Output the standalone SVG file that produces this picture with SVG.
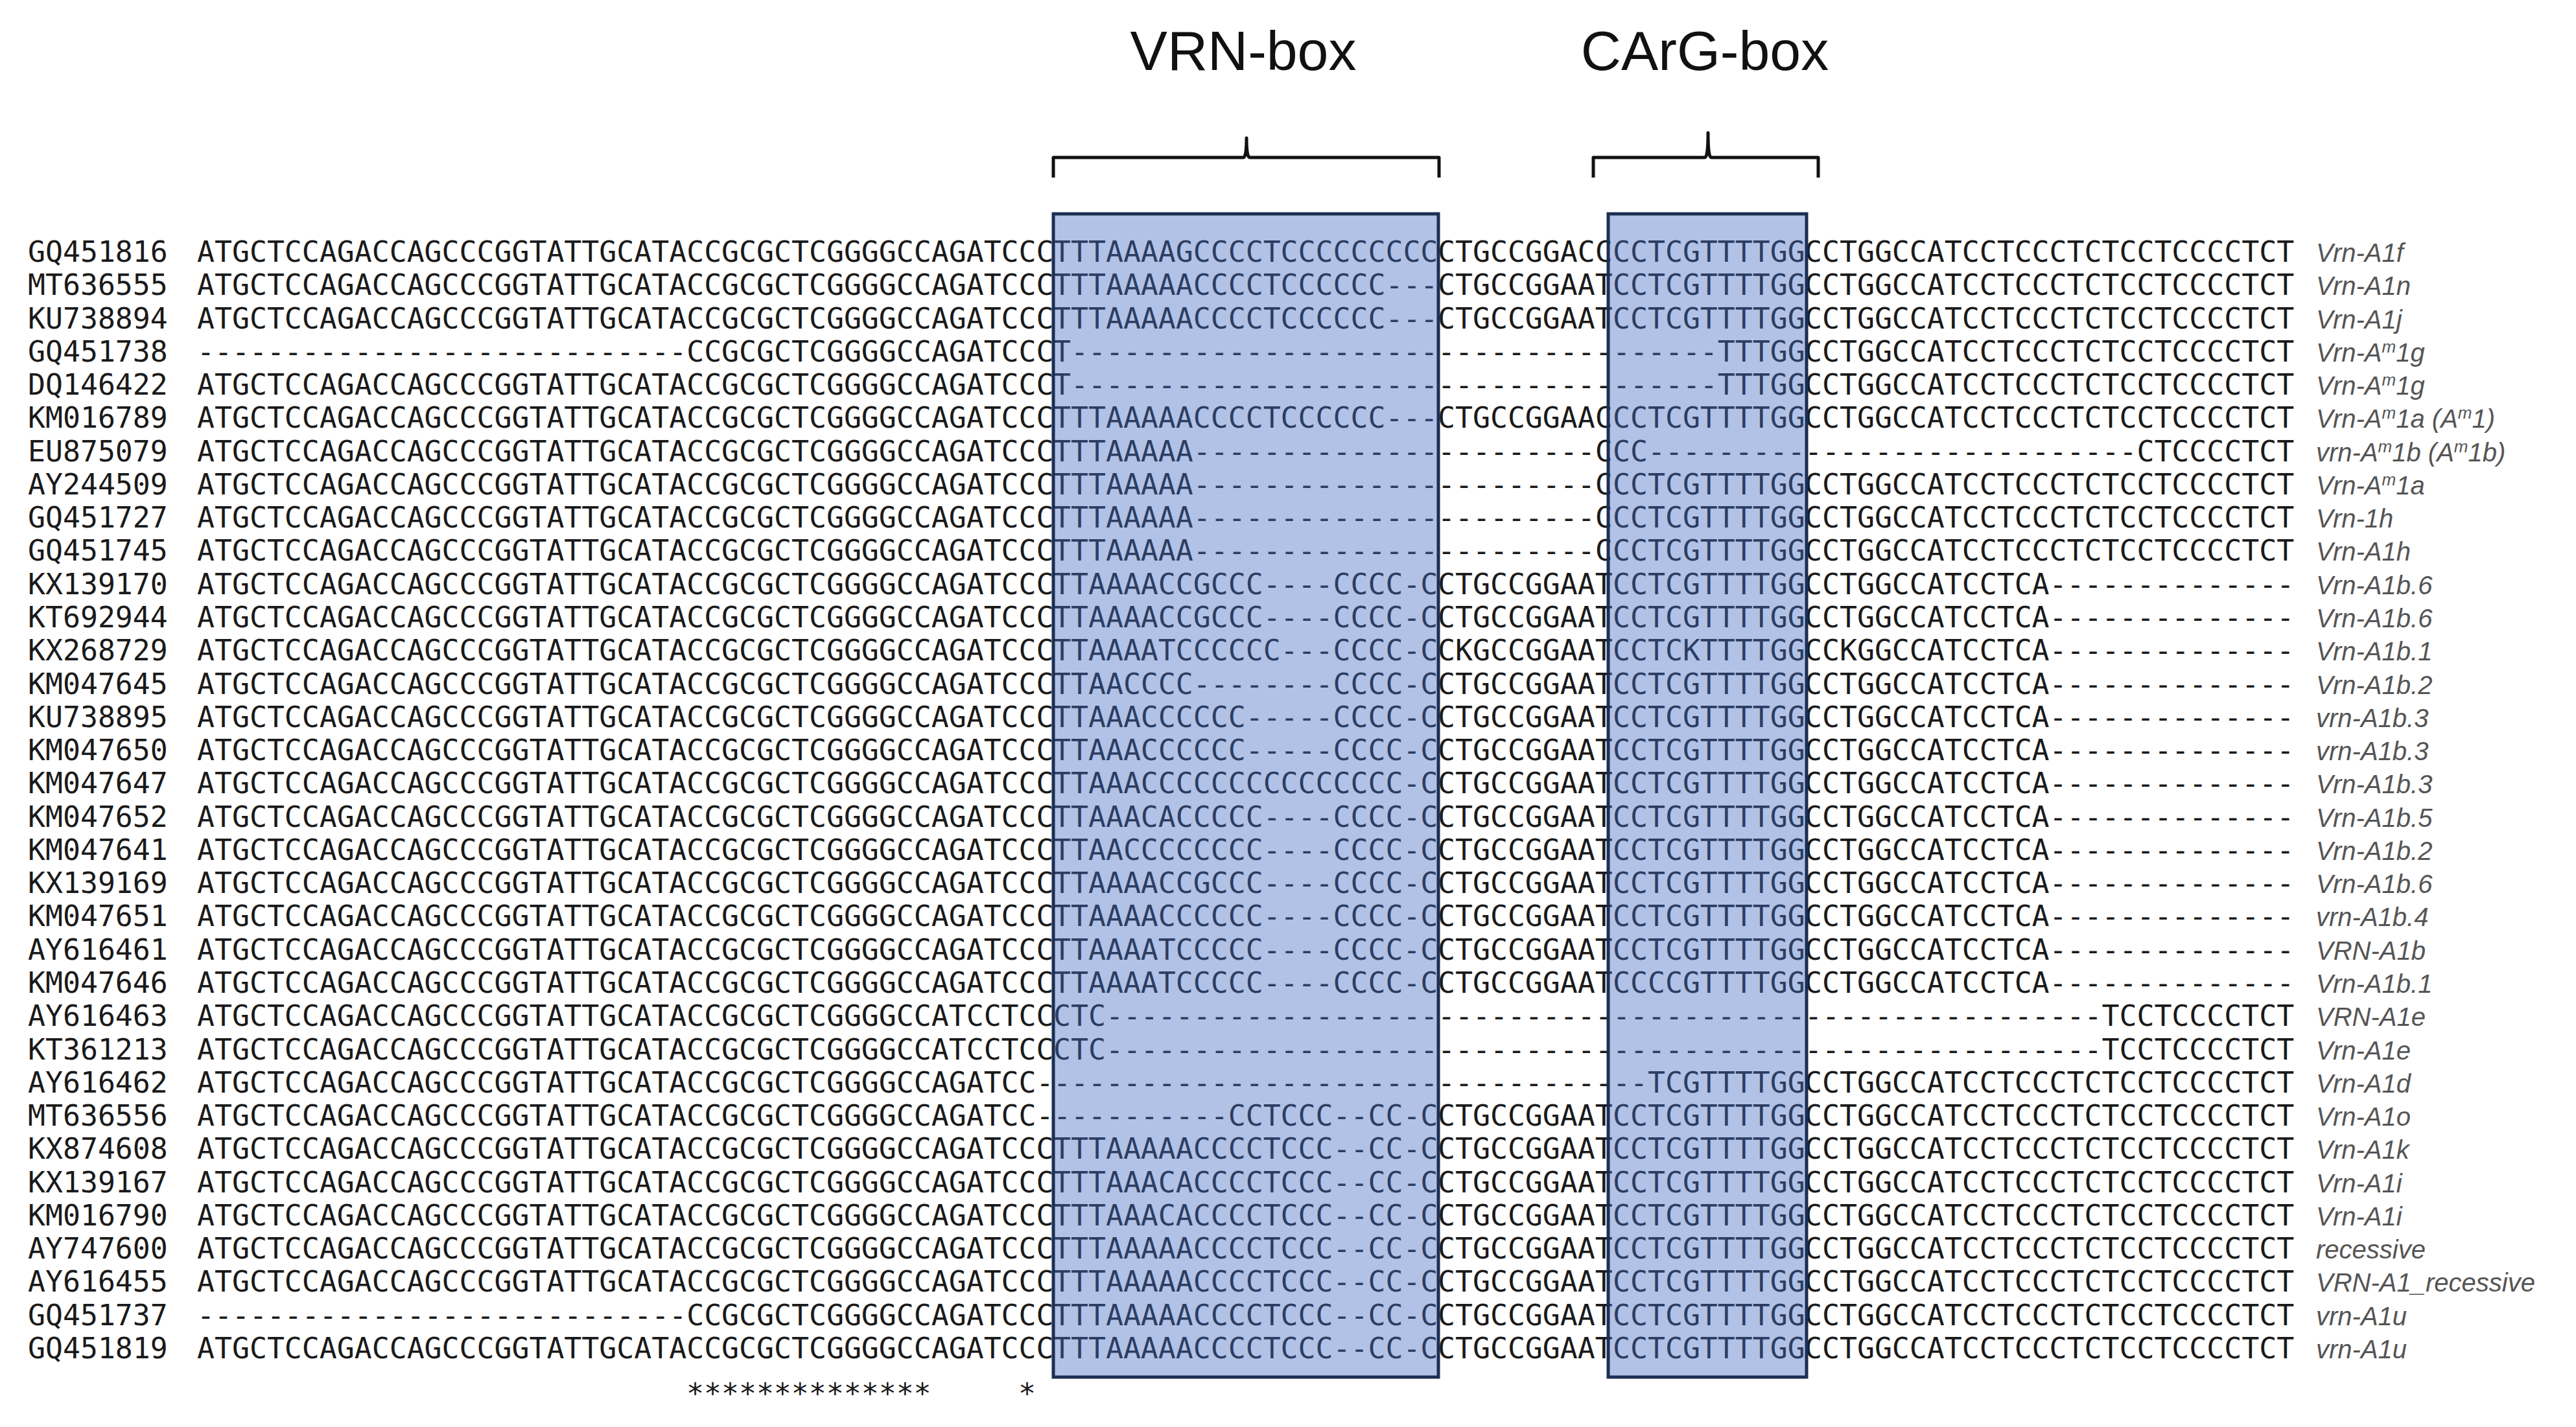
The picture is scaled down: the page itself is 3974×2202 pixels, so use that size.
<svg xmlns="http://www.w3.org/2000/svg" width="3974" height="2202" viewBox="0 0 3974 2202">
<style>
text{font-family:"DejaVu Sans Mono","Liberation Mono",monospace;font-size:44.8px;fill:#1a1a1a}
.lab{font-family:"Liberation Sans",Arial,sans-serif;font-style:italic;font-size:40px;fill:#555}
.hd{font-family:"Liberation Sans",Arial,sans-serif;font-size:86px;fill:#111;text-anchor:middle}
.box{fill:rgb(70,110,195);fill-opacity:0.42;stroke:#1c2e52;stroke-width:5}
.br{fill:none;stroke:#111;stroke-width:5;stroke-linejoin:round}
</style>
<defs>
<g id="dummy"/>
</defs>
<g id="header">
<text class="hd" x="1918" y="108">VRN-box</text>
<text class="hd" x="2630" y="108">CArG-box</text>
</g>
<g id="connectors">
<path class="br" d="M1625,274 V243 H1918 Q1923,243 1923,213 Q1923,243 1928,243 H2220 V274"/>
<path class="br" d="M2458,274 V243 H2630 Q2635,243 2635,205 Q2635,243 2640,243 H2805 V274"/>
</g>
<g id="r1" transform="translate(0,404)"><text x="43">GQ451816</text><text x="304">ATGCTCCAGACCAGCCCGGTATTGCATACCGCGCTCGGGGCCAGATCCC</text><text x="1625">TTTAAAAGCCCCTCCCCCCCCC</text><text x="2218">CTGCCGGACC</text><text x="2488">CCTCGTTTTGG</text><text x="2784">CCTGGCCATCCTCCCTCTCCTCCCCTCT</text><text class="lab" x="3573">Vrn-A1f</text></g>
<g id="r2" transform="translate(0,455.3)"><text x="43">MT636555</text><text x="304">ATGCTCCAGACCAGCCCGGTATTGCATACCGCGCTCGGGGCCAGATCCC</text><text x="1625">TTTAAAAACCCCTCCCCCC---</text><text x="2218">CTGCCGGAAT</text><text x="2488">CCTCGTTTTGG</text><text x="2784">CCTGGCCATCCTCCCTCTCCTCCCCTCT</text><text class="lab" x="3573">Vrn-A1n</text></g>
<g id="r3" transform="translate(0,506.5)"><text x="43">KU738894</text><text x="304">ATGCTCCAGACCAGCCCGGTATTGCATACCGCGCTCGGGGCCAGATCCC</text><text x="1625">TTTAAAAACCCCTCCCCCC---</text><text x="2218">CTGCCGGAAT</text><text x="2488">CCTCGTTTTGG</text><text x="2784">CCTGGCCATCCTCCCTCTCCTCCCCTCT</text><text class="lab" x="3573">Vrn-A1j</text></g>
<g id="r4" transform="translate(0,557.8)"><text x="43">GQ451738</text><text x="304">----------------------------CCGCGCTCGGGGCCAGATCCC</text><text x="1625">T---------------------</text><text x="2218">----------</text><text x="2488">------TTTGG</text><text x="2784">CCTGGCCATCCTCCCTCTCCTCCCCTCT</text><text class="lab" x="3573">Vrn-A<tspan dy="-14" font-size="26">m</tspan><tspan dy="14">1g</tspan></text></g>
<g id="r5" transform="translate(0,609.1)"><text x="43">DQ146422</text><text x="304">ATGCTCCAGACCAGCCCGGTATTGCATACCGCGCTCGGGGCCAGATCCC</text><text x="1625">T---------------------</text><text x="2218">----------</text><text x="2488">------TTTGG</text><text x="2784">CCTGGCCATCCTCCCTCTCCTCCCCTCT</text><text class="lab" x="3573">Vrn-A<tspan dy="-14" font-size="26">m</tspan><tspan dy="14">1g</tspan></text></g>
<g id="r6" transform="translate(0,660.4)"><text x="43">KM016789</text><text x="304">ATGCTCCAGACCAGCCCGGTATTGCATACCGCGCTCGGGGCCAGATCCC</text><text x="1625">TTTAAAAACCCCTCCCCCC---</text><text x="2218">CTGCCGGAAC</text><text x="2488">CCTCGTTTTGG</text><text x="2784">CCTGGCCATCCTCCCTCTCCTCCCCTCT</text><text class="lab" x="3573">Vrn-A<tspan dy="-14" font-size="26">m</tspan><tspan dy="14">1a (A</tspan><tspan dy="-14" font-size="26">m</tspan><tspan dy="14">1)</tspan></text></g>
<g id="r7" transform="translate(0,711.6)"><text x="43">EU875079</text><text x="304">ATGCTCCAGACCAGCCCGGTATTGCATACCGCGCTCGGGGCCAGATCCC</text><text x="1625">TTTAAAAA--------------</text><text x="2218">---------C</text><text x="2488">CC---------</text><text x="2784">-------------------CTCCCCTCT</text><text class="lab" x="3573">vrn-A<tspan dy="-14" font-size="26">m</tspan><tspan dy="14">1b (A</tspan><tspan dy="-14" font-size="26">m</tspan><tspan dy="14">1b)</tspan></text></g>
<g id="r8" transform="translate(0,762.9)"><text x="43">AY244509</text><text x="304">ATGCTCCAGACCAGCCCGGTATTGCATACCGCGCTCGGGGCCAGATCCC</text><text x="1625">TTTAAAAA--------------</text><text x="2218">---------C</text><text x="2488">CCTCGTTTTGG</text><text x="2784">CCTGGCCATCCTCCCTCTCCTCCCCTCT</text><text class="lab" x="3573">Vrn-A<tspan dy="-14" font-size="26">m</tspan><tspan dy="14">1a</tspan></text></g>
<g id="r9" transform="translate(0,814.2)"><text x="43">GQ451727</text><text x="304">ATGCTCCAGACCAGCCCGGTATTGCATACCGCGCTCGGGGCCAGATCCC</text><text x="1625">TTTAAAAA--------------</text><text x="2218">---------C</text><text x="2488">CCTCGTTTTGG</text><text x="2784">CCTGGCCATCCTCCCTCTCCTCCCCTCT</text><text class="lab" x="3573">Vrn-1h</text></g>
<g id="r10" transform="translate(0,865.4)"><text x="43">GQ451745</text><text x="304">ATGCTCCAGACCAGCCCGGTATTGCATACCGCGCTCGGGGCCAGATCCC</text><text x="1625">TTTAAAAA--------------</text><text x="2218">---------C</text><text x="2488">CCTCGTTTTGG</text><text x="2784">CCTGGCCATCCTCCCTCTCCTCCCCTCT</text><text class="lab" x="3573">Vrn-A1h</text></g>
<g id="r11" transform="translate(0,916.7)"><text x="43">KX139170</text><text x="304">ATGCTCCAGACCAGCCCGGTATTGCATACCGCGCTCGGGGCCAGATCCC</text><text x="1625">TTAAAACCGCCC----CCCC-C</text><text x="2218">CTGCCGGAAT</text><text x="2488">CCTCGTTTTGG</text><text x="2784">CCTGGCCATCCTCA--------------</text><text class="lab" x="3573">Vrn-A1b.6</text></g>
<g id="r12" transform="translate(0,968)"><text x="43">KT692944</text><text x="304">ATGCTCCAGACCAGCCCGGTATTGCATACCGCGCTCGGGGCCAGATCCC</text><text x="1625">TTAAAACCGCCC----CCCC-C</text><text x="2218">CTGCCGGAAT</text><text x="2488">CCTCGTTTTGG</text><text x="2784">CCTGGCCATCCTCA--------------</text><text class="lab" x="3573">Vrn-A1b.6</text></g>
<g id="r13" transform="translate(0,1019.2)"><text x="43">KX268729</text><text x="304">ATGCTCCAGACCAGCCCGGTATTGCATACCGCGCTCGGGGCCAGATCCC</text><text x="1625">TTAAAATCCCCCC---CCCC-C</text><text x="2218">CKGCCGGAAT</text><text x="2488">CCTCKTTTTGG</text><text x="2784">CCKGGCCATCCTCA--------------</text><text class="lab" x="3573">Vrn-A1b.1</text></g>
<g id="r14" transform="translate(0,1070.5)"><text x="43">KM047645</text><text x="304">ATGCTCCAGACCAGCCCGGTATTGCATACCGCGCTCGGGGCCAGATCCC</text><text x="1625">TTAACCCC--------CCCC-C</text><text x="2218">CTGCCGGAAT</text><text x="2488">CCTCGTTTTGG</text><text x="2784">CCTGGCCATCCTCA--------------</text><text class="lab" x="3573">Vrn-A1b.2</text></g>
<g id="r15" transform="translate(0,1121.8)"><text x="43">KU738895</text><text x="304">ATGCTCCAGACCAGCCCGGTATTGCATACCGCGCTCGGGGCCAGATCCC</text><text x="1625">TTAAACCCCCC-----CCCC-C</text><text x="2218">CTGCCGGAAT</text><text x="2488">CCTCGTTTTGG</text><text x="2784">CCTGGCCATCCTCA--------------</text><text class="lab" x="3573">vrn-A1b.3</text></g>
<g id="r16" transform="translate(0,1173.1)"><text x="43">KM047650</text><text x="304">ATGCTCCAGACCAGCCCGGTATTGCATACCGCGCTCGGGGCCAGATCCC</text><text x="1625">TTAAACCCCCC-----CCCC-C</text><text x="2218">CTGCCGGAAT</text><text x="2488">CCTCGTTTTGG</text><text x="2784">CCTGGCCATCCTCA--------------</text><text class="lab" x="3573">vrn-A1b.3</text></g>
<g id="r17" transform="translate(0,1224.3)"><text x="43">KM047647</text><text x="304">ATGCTCCAGACCAGCCCGGTATTGCATACCGCGCTCGGGGCCAGATCCC</text><text x="1625">TTAAACCCCCCCCCCCCCCC-C</text><text x="2218">CTGCCGGAAT</text><text x="2488">CCTCGTTTTGG</text><text x="2784">CCTGGCCATCCTCA--------------</text><text class="lab" x="3573">Vrn-A1b.3</text></g>
<g id="r18" transform="translate(0,1275.6)"><text x="43">KM047652</text><text x="304">ATGCTCCAGACCAGCCCGGTATTGCATACCGCGCTCGGGGCCAGATCCC</text><text x="1625">TTAAACACCCCC----CCCC-C</text><text x="2218">CTGCCGGAAT</text><text x="2488">CCTCGTTTTGG</text><text x="2784">CCTGGCCATCCTCA--------------</text><text class="lab" x="3573">Vrn-A1b.5</text></g>
<g id="r19" transform="translate(0,1326.9)"><text x="43">KM047641</text><text x="304">ATGCTCCAGACCAGCCCGGTATTGCATACCGCGCTCGGGGCCAGATCCC</text><text x="1625">TTAACCCCCCCC----CCCC-C</text><text x="2218">CTGCCGGAAT</text><text x="2488">CCTCGTTTTGG</text><text x="2784">CCTGGCCATCCTCA--------------</text><text class="lab" x="3573">Vrn-A1b.2</text></g>
<g id="r20" transform="translate(0,1378.1)"><text x="43">KX139169</text><text x="304">ATGCTCCAGACCAGCCCGGTATTGCATACCGCGCTCGGGGCCAGATCCC</text><text x="1625">TTAAAACCGCCC----CCCC-C</text><text x="2218">CTGCCGGAAT</text><text x="2488">CCTCGTTTTGG</text><text x="2784">CCTGGCCATCCTCA--------------</text><text class="lab" x="3573">Vrn-A1b.6</text></g>
<g id="r21" transform="translate(0,1429.4)"><text x="43">KM047651</text><text x="304">ATGCTCCAGACCAGCCCGGTATTGCATACCGCGCTCGGGGCCAGATCCC</text><text x="1625">TTAAAACCCCCC----CCCC-C</text><text x="2218">CTGCCGGAAT</text><text x="2488">CCTCGTTTTGG</text><text x="2784">CCTGGCCATCCTCA--------------</text><text class="lab" x="3573">vrn-A1b.4</text></g>
<g id="r22" transform="translate(0,1480.7)"><text x="43">AY616461</text><text x="304">ATGCTCCAGACCAGCCCGGTATTGCATACCGCGCTCGGGGCCAGATCCC</text><text x="1625">TTAAAATCCCCC----CCCC-C</text><text x="2218">CTGCCGGAAT</text><text x="2488">CCTCGTTTTGG</text><text x="2784">CCTGGCCATCCTCA--------------</text><text class="lab" x="3573">VRN-A1b</text></g>
<g id="r23" transform="translate(0,1531.9)"><text x="43">KM047646</text><text x="304">ATGCTCCAGACCAGCCCGGTATTGCATACCGCGCTCGGGGCCAGATCCC</text><text x="1625">TTAAAATCCCCC----CCCC-C</text><text x="2218">CTGCCGGAAT</text><text x="2488">CCCCGTTTTGG</text><text x="2784">CCTGGCCATCCTCA--------------</text><text class="lab" x="3573">Vrn-A1b.1</text></g>
<g id="r24" transform="translate(0,1583.2)"><text x="43">AY616463</text><text x="304">ATGCTCCAGACCAGCCCGGTATTGCATACCGCGCTCGGGGCCATCCTCC</text><text x="1625">CTC-------------------</text><text x="2218">----------</text><text x="2488">-----------</text><text x="2784">-----------------TCCTCCCCTCT</text><text class="lab" x="3573">VRN-A1e</text></g>
<g id="r25" transform="translate(0,1634.5)"><text x="43">KT361213</text><text x="304">ATGCTCCAGACCAGCCCGGTATTGCATACCGCGCTCGGGGCCATCCTCC</text><text x="1625">CTC-------------------</text><text x="2218">----------</text><text x="2488">-----------</text><text x="2784">-----------------TCCTCCCCTCT</text><text class="lab" x="3573">Vrn-A1e</text></g>
<g id="r26" transform="translate(0,1685.8)"><text x="43">AY616462</text><text x="304">ATGCTCCAGACCAGCCCGGTATTGCATACCGCGCTCGGGGCCAGATCC-</text><text x="1625">----------------------</text><text x="2218">----------</text><text x="2488">--TCGTTTTGG</text><text x="2784">CCTGGCCATCCTCCCTCTCCTCCCCTCT</text><text class="lab" x="3573">Vrn-A1d</text></g>
<g id="r27" transform="translate(0,1737)"><text x="43">MT636556</text><text x="304">ATGCTCCAGACCAGCCCGGTATTGCATACCGCGCTCGGGGCCAGATCC-</text><text x="1625">----------CCTCCC--CC-C</text><text x="2218">CTGCCGGAAT</text><text x="2488">CCTCGTTTTGG</text><text x="2784">CCTGGCCATCCTCCCTCTCCTCCCCTCT</text><text class="lab" x="3573">Vrn-A1o</text></g>
<g id="r28" transform="translate(0,1788.3)"><text x="43">KX874608</text><text x="304">ATGCTCCAGACCAGCCCGGTATTGCATACCGCGCTCGGGGCCAGATCCC</text><text x="1625">TTTAAAAACCCCTCCC--CC-C</text><text x="2218">CTGCCGGAAT</text><text x="2488">CCTCGTTTTGG</text><text x="2784">CCTGGCCATCCTCCCTCTCCTCCCCTCT</text><text class="lab" x="3573">Vrn-A1k</text></g>
<g id="r29" transform="translate(0,1839.6)"><text x="43">KX139167</text><text x="304">ATGCTCCAGACCAGCCCGGTATTGCATACCGCGCTCGGGGCCAGATCCC</text><text x="1625">TTTAAACACCCCTCCC--CC-C</text><text x="2218">CTGCCGGAAT</text><text x="2488">CCTCGTTTTGG</text><text x="2784">CCTGGCCATCCTCCCTCTCCTCCCCTCT</text><text class="lab" x="3573">Vrn-A1i</text></g>
<g id="r30" transform="translate(0,1890.8)"><text x="43">KM016790</text><text x="304">ATGCTCCAGACCAGCCCGGTATTGCATACCGCGCTCGGGGCCAGATCCC</text><text x="1625">TTTAAACACCCCTCCC--CC-C</text><text x="2218">CTGCCGGAAT</text><text x="2488">CCTCGTTTTGG</text><text x="2784">CCTGGCCATCCTCCCTCTCCTCCCCTCT</text><text class="lab" x="3573">Vrn-A1i</text></g>
<g id="r31" transform="translate(0,1942.1)"><text x="43">AY747600</text><text x="304">ATGCTCCAGACCAGCCCGGTATTGCATACCGCGCTCGGGGCCAGATCCC</text><text x="1625">TTTAAAAACCCCTCCC--CC-C</text><text x="2218">CTGCCGGAAT</text><text x="2488">CCTCGTTTTGG</text><text x="2784">CCTGGCCATCCTCCCTCTCCTCCCCTCT</text><text class="lab" x="3573">recessive</text></g>
<g id="r32" transform="translate(0,1993.4)"><text x="43">AY616455</text><text x="304">ATGCTCCAGACCAGCCCGGTATTGCATACCGCGCTCGGGGCCAGATCCC</text><text x="1625">TTTAAAAACCCCTCCC--CC-C</text><text x="2218">CTGCCGGAAT</text><text x="2488">CCTCGTTTTGG</text><text x="2784">CCTGGCCATCCTCCCTCTCCTCCCCTCT</text><text class="lab" x="3573">VRN-A1_recessive</text></g>
<g id="r33" transform="translate(0,2044.6)"><text x="43">GQ451737</text><text x="304">----------------------------CCGCGCTCGGGGCCAGATCCC</text><text x="1625">TTTAAAAACCCCTCCC--CC-C</text><text x="2218">CTGCCGGAAT</text><text x="2488">CCTCGTTTTGG</text><text x="2784">CCTGGCCATCCTCCCTCTCCTCCCCTCT</text><text class="lab" x="3573">vrn-A1u</text></g>
<g id="r34" transform="translate(0,2095.9)"><text x="43">GQ451819</text><text x="304">ATGCTCCAGACCAGCCCGGTATTGCATACCGCGCTCGGGGCCAGATCCC</text><text x="1625">TTTAAAAACCCCTCCC--CC-C</text><text x="2218">CTGCCGGAAT</text><text x="2488">CCTCGTTTTGG</text><text x="2784">CCTGGCCATCCTCCCTCTCCTCCCCTCT</text><text class="lab" x="3573">vrn-A1u</text></g>
<g id="conservation"><text x="1059" y="2166">**************</text><text x="1571" y="2166">*</text></g>
<g id="vrn-box"><rect class="box" x="1625" y="330" width="594" height="1795"/></g>
<g id="carg-box"><rect class="box" x="2481" y="330" width="306" height="1795"/></g>
</svg>
